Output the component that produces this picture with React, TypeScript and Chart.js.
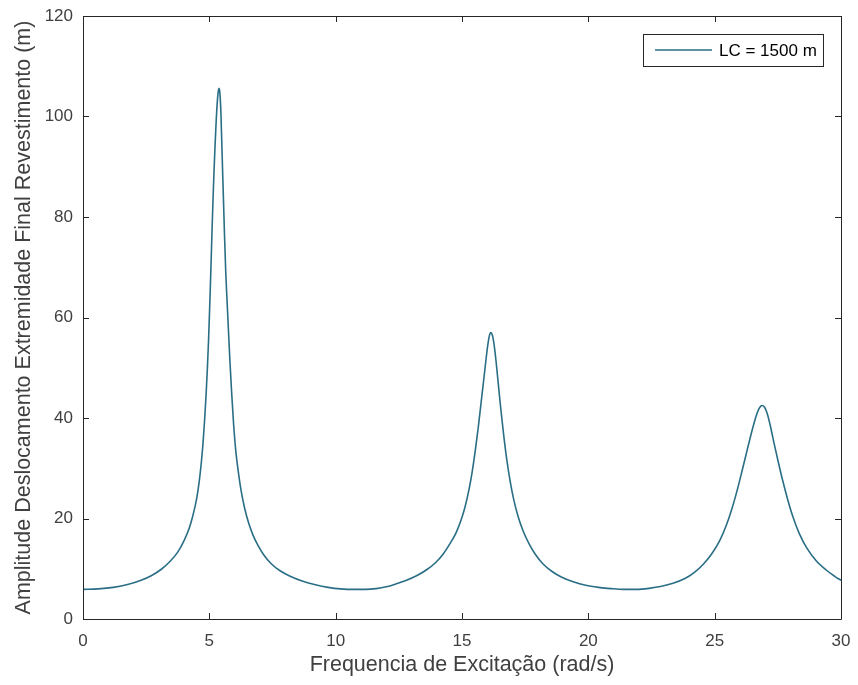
import React, { useEffect, useRef } from "react";
import { Chart, registerables } from "chart.js";

Chart.register(...registerables);

const seriesLabel = "LC = 1500 m";
const xTitle = "Frequencia de Excitação (rad/s)";
const yTitle = "Amplitude Deslocamento Extremidade Final Revestimento (m)";

const freq = [
  0, 0.6, 1.2, 1.8, 2.3, 2.7, 3.1, 3.45, 3.75, 4.0, 4.2, 4.35, 4.5, 4.6, 4.68, 4.75, 4.81, 4.87,
  4.92, 4.97, 5.02, 5.07, 5.12, 5.17, 5.22, 5.27, 5.32, 5.36, 5.39, 5.42, 5.46, 5.5, 5.55, 5.6,
  5.65, 5.7, 5.75, 5.81, 5.88, 5.96, 6.05, 6.15, 6.27, 6.4, 6.55, 6.72, 6.92, 7.15, 7.45, 7.8,
  8.2, 8.7, 9.2, 9.7, 10.2, 10.7, 11.2, 11.6, 12.0, 12.4, 12.8, 13.2, 13.6, 13.95, 14.25, 14.5,
  14.75, 14.95, 15.12, 15.27, 15.4, 15.52, 15.64, 15.75, 15.85, 15.94, 16.02, 16.08, 16.14, 16.2,
  16.27, 16.35, 16.44, 16.54, 16.65, 16.77, 16.9, 17.05, 17.22, 17.42, 17.65, 17.9, 18.2, 18.55,
  18.95, 19.4, 19.9, 20.4, 20.9, 21.4, 21.9, 22.4, 22.9, 23.35, 23.8, 24.2, 24.55, 24.9, 25.2,
  25.45, 25.68, 25.9, 26.1, 26.3, 26.48, 26.63, 26.76, 26.87, 26.97, 27.08, 27.2, 27.35, 27.52,
  27.7, 27.9, 28.1, 28.35, 28.65, 29.0, 29.4, 29.75, 30,
];

const amplitude = [
  5.9, 6.0, 6.3, 6.9, 7.7, 8.6, 9.9, 11.5, 13.3, 15.6, 18.0, 20.6, 24.0, 27.4, 31.0, 35.0, 39.4, 44.5,
  49.6, 55.5, 63.0, 71.0, 79.5, 87.0, 93.5, 99.0, 103.2, 105.2, 105.6, 104.5, 100.5, 93.5, 85.0, 76.5,
  69.0, 63.5, 58.2, 51.8, 45.3, 38.8, 33.3, 29.2, 25.2, 22.0, 19.2, 16.8, 14.7, 12.8, 11.0, 9.6,
  8.5, 7.5, 6.8, 6.3, 6.0, 5.9, 5.9, 6.05, 6.4, 7.0, 7.7, 8.6, 9.8, 11.2, 12.9, 14.8,
  17.0, 19.5, 22.3, 25.6, 29.2, 33.3, 38.0, 42.8, 47.2, 51.2, 54.5, 56.3, 57.0, 56.5,
  54.6, 51.2, 46.6, 41.6, 36.6, 31.8, 27.6, 23.7, 20.4, 17.5, 15.0, 12.9, 11.0, 9.5,
  8.3, 7.4, 6.7, 6.3, 6.05, 5.9, 5.9, 6.1, 6.5, 7.1, 8.0, 9.3, 10.9, 13.1, 15.6,
  18.5, 21.9, 25.8, 29.8, 33.9, 37.5, 40.2, 41.9, 42.5, 42.2, 40.9, 38.5, 35.0, 31.2,
  27.4, 23.6, 20.3, 17.0, 14.1, 11.7, 9.8, 8.5, 7.7,
];

const xTicks = [0, 5, 10, 15, 20, 25, 30];
const yTicks = [0, 20, 40, 60, 80, 100, 120];

const LINE_COLOR = "#2a6e86";
const AXIS_COLOR = "#262626";
const TEXT_COLOR = "#404040";
const FONT = "'Liberation Sans', Arial, sans-serif";

const boxPlugin = {
  id: "matlabBox",
  afterDraw(chart: any) {
    const { ctx, chartArea } = chart;
    const { left, right, top, bottom } = chartArea;
    const xs = chart.scales.x;
    const ys = chart.scales.y;
    const tl = 6;
    ctx.save();
    ctx.strokeStyle = AXIS_COLOR;
    ctx.lineWidth = 1;
    ctx.beginPath();
    ctx.rect(Math.round(left) + 0.5, Math.round(top) + 0.5, Math.round(right - left), Math.round(bottom - top));
    ctx.stroke();
    ctx.beginPath();
    xTicks.forEach((v) => {
      const px = Math.round(xs.getPixelForValue(v)) + 0.5;
      ctx.moveTo(px, bottom);
      ctx.lineTo(px, bottom - tl);
      ctx.moveTo(px, top);
      ctx.lineTo(px, top + tl);
    });
    yTicks.forEach((v) => {
      const py = Math.round(ys.getPixelForValue(v)) + 0.5;
      ctx.moveTo(left, py);
      ctx.lineTo(left + tl, py);
      ctx.moveTo(right, py);
      ctx.lineTo(right - tl, py);
    });
    ctx.stroke();

    // legend
    const lw = 180;
    const lh = 32;
    const lx = Math.round(right) - 18 - lw;
    const ly = Math.round(top) + 18;
    ctx.fillStyle = "#ffffff";
    ctx.fillRect(lx, ly, lw, lh);
    ctx.strokeStyle = AXIS_COLOR;
    ctx.strokeRect(lx + 0.5, ly + 0.5, lw, lh);
    ctx.strokeStyle = LINE_COLOR;
    ctx.lineWidth = 1.5;
    ctx.beginPath();
    ctx.moveTo(lx + 12, ly + lh / 2);
    ctx.lineTo(lx + 69, ly + lh / 2);
    ctx.stroke();
    ctx.fillStyle = "#000000";
    ctx.font = `17px ${FONT}`;
    ctx.textBaseline = "middle";
    ctx.textAlign = "left";
    ctx.fillText(chart.data.datasets[0].label, lx + 76, ly + lh / 2 + 1);
    ctx.restore();
  },
};

export default function App() {
  const ref = useRef<HTMLCanvasElement>(null);

  useEffect(() => {
    document.body.style.margin = "0";
    const canvas = ref.current;
    if (!canvas) return;
    const points = freq.map((f, i) => ({ x: f, y: amplitude[i] }));
    const chart = new Chart(canvas, {
      type: "line",
      data: {
        datasets: [
          {
            label: seriesLabel,
            data: points,
            borderColor: LINE_COLOR,
            backgroundColor: LINE_COLOR,
            borderWidth: 1.6,
            pointRadius: 0,
            fill: false,
            cubicInterpolationMode: "monotone",
          },
        ],
      },
      options: {
        animation: false,
        responsive: false,
        maintainAspectRatio: false,
        layout: { padding: { left: 0, right: 17, top: 16, bottom: 0 } },
        plugins: { legend: { display: false }, tooltip: { enabled: false } },
        scales: {
          x: {
            type: "linear",
            min: 0,
            max: 30,
            afterBuildTicks: (s: any) => {
              s.ticks = xTicks.map((v) => ({ value: v }));
            },
            afterFit: (s: any) => {
              s.height = 66;
              s.paddingLeft = 0;
              s.paddingRight = 0;
            },
            grid: { display: false, drawTicks: false },
            border: { display: false },
            ticks: {
              padding: 12,
              color: TEXT_COLOR,
              font: { family: FONT, size: 17 },
              maxRotation: 0,
            },
            title: {
              display: true,
              text: xTitle,
              color: TEXT_COLOR,
              font: { family: FONT, size: 21.5 },
              padding: { top: 2, bottom: 7 },
            },
          },
          y: {
            type: "linear",
            min: 0,
            max: 120,
            afterBuildTicks: (s: any) => {
              s.ticks = yTicks.map((v) => ({ value: v }));
            },
            afterFit: (s: any) => {
              s.width = 83;
              s.paddingTop = 0;
              s.paddingBottom = 0;
            },
            grid: { display: false, drawTicks: false },
            border: { display: false },
            ticks: {
              padding: 10,
              color: TEXT_COLOR,
              font: { family: FONT, size: 17 },
            },
            title: {
              display: true,
              text: yTitle,
              color: TEXT_COLOR,
              font: { family: FONT, size: 21.5 },
              padding: { top: 11, bottom: 0 },
            },
          },
        },
      },
      plugins: [boxPlugin],
    });
    return () => chart.destroy();
  }, []);

  return (
    <div style={{ position: "absolute", left: 0, top: 0, width: 858, height: 685, background: "#fff" }}>
      <canvas ref={ref} width={858} height={685} style={{ width: 858, height: 685 }} />
    </div>
  );
}
